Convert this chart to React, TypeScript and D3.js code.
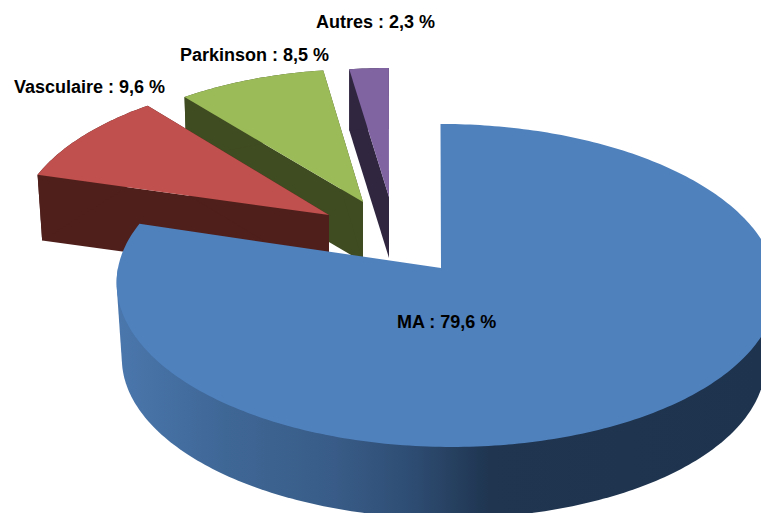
import React from "react";
import * as d3 from "d3";

const categories = ["MA", "Vasculaire", "Parkinson", "Autres"];
const values = [79.6, 9.6, 8.5, 2.3];
const labels = ["MA : 79,6 %", "Vasculaire : 9,6 %", "Parkinson : 8,5 %", "Autres : 2,3 %"];
const topColors = ["#4f81bd", "#c0504d", "#9bbb59", "#8064a2"];
const wallColors = ["url(#blueSide)", "#4f1f1c", "#3f4b21", "#302640"];
const layouts = [
  { cx: 446, cy: 268, ax: 441, ay: 268, k: 1, dx: -3, dy: 76, kb: 0.975 },
  { cx: 338, cy: 218, ax: 329, ay: 215, k: 0.98, dx: 0, dy: 65, kb: 0.965 },
  { cx: 369, cy: 206, ax: 363, ay: 202, k: 0.95, dx: 0, dy: 60, kb: 0.94 },
  { cx: 394, cy: 202, ax: 389, ay: 197, k: 0.93, dx: 0, dy: 61, kb: 0.93 },
];
const labelPos = [
  { x: 397, y: 328 },
  { x: 14, y: 93 },
  { x: 180, y: 61 },
  { x: 316, y: 28 },
];
const sideStops = [
  [0, "#4a77ad"],
  [0.17, "#3f6796"],
  [0.34, "#385c87"],
  [0.45, "#2f4e75"],
  [0.58, "#1f3550"],
  [1, "#1e334e"],
];

const R = 328;
const Ry = 159.6;
const persp = 0.108;
const skew = 5.5;

function project(angle: number, cx: number, cy: number, k: number): [number, number] {
  const X = Math.sin(angle);
  const Y = Math.cos(angle);
  const s = 1 / (1 + persp * Y);
  return [cx + k * (s * R * X - skew * Y), cy - k * Ry * s * Y];
}

const pieGen = d3.pie<number>().sort(null).startAngle(0).endAngle(2 * Math.PI);
const lineGen = d3.line<[number, number]>();

function arcPts(a0: number, a1: number, cx: number, cy: number, k: number) {
  const n = Math.max(6, Math.ceil((a1 - a0) * 60));
  return d3.range(n + 1).map((i) => project(a0 + ((a1 - a0) * i) / n, cx, cy, k));
}

export default function App() {
  const arcs = pieGen(values);
  const order = [3, 2, 1, 0];
  return (
    <svg
      width={761}
      height={513}
      viewBox="0 0 761 513"
      style={{ position: "absolute", left: 0, top: 0, display: "block", background: "#fff" }}
    >
      <defs>
        <linearGradient id="blueSide" gradientUnits="userSpaceOnUse" x1={115} x2={761} y1={0} y2={0}>
          {sideStops.map(([o, c]) => (
            <stop key={String(o)} offset={o as number} stopColor={c as string} />
          ))}
        </linearGradient>
      </defs>
      {order.map((i) => {
        const a = arcs[i];
        const l = layouts[i];
        const top = arcPts(a.startAngle, a.endAngle, l.cx, l.cy, l.k);
        const bottom = arcPts(a.startAngle, a.endAngle, l.cx + l.dx, l.cy + l.dy, l.kb);
        const apex: [number, number] = [l.ax, l.ay];
        const apexB: [number, number] = [l.ax, l.ay + l.dy];
        // Outer wall: convex hull of the front part of the rim, top and bottom.
        const large = a.startAngle < Math.PI / 2 && a.endAngle > (3 * Math.PI) / 2;
        const a0 = large ? Math.PI / 2 : a.startAngle;
        const a1 = large ? (3 * Math.PI) / 2 : a.endAngle;
        const rim = d3.polygonHull([
          ...arcPts(a0, a1, l.cx, l.cy, l.k),
          ...arcPts(a0, a1, l.cx + l.dx, l.cy + l.dy, l.kb),
        ]) as [number, number][];
        const wallStart = [apex, top[0], bottom[0], apexB] as [number, number][];
        const wallEnd = [apex, top[top.length - 1], bottom[bottom.length - 1], apexB] as [number, number][];
        const face = [apex, ...top];
        return (
          <g key={categories[i]}>
            {i !== 0 && <path d={lineGen(wallStart) + "Z"} fill={wallColors[i]} />}
            {i !== 0 && <path d={lineGen(wallEnd) + "Z"} fill={wallColors[i]} />}
            <path d={lineGen(rim) + "Z"} fill={wallColors[i]} />
            <path d={lineGen(face) + "Z"} fill={topColors[i]} />
          </g>
        );
      })}
      {labels.map((t, i) => (
        <text
          key={t}
          x={labelPos[i].x}
          y={labelPos[i].y}
          fontFamily="'Liberation Sans', Arial, sans-serif"
          fontWeight="bold"
          fontSize={18}
          fill="#000"
        >
          {t}
        </text>
      ))}
    </svg>
  );
}
